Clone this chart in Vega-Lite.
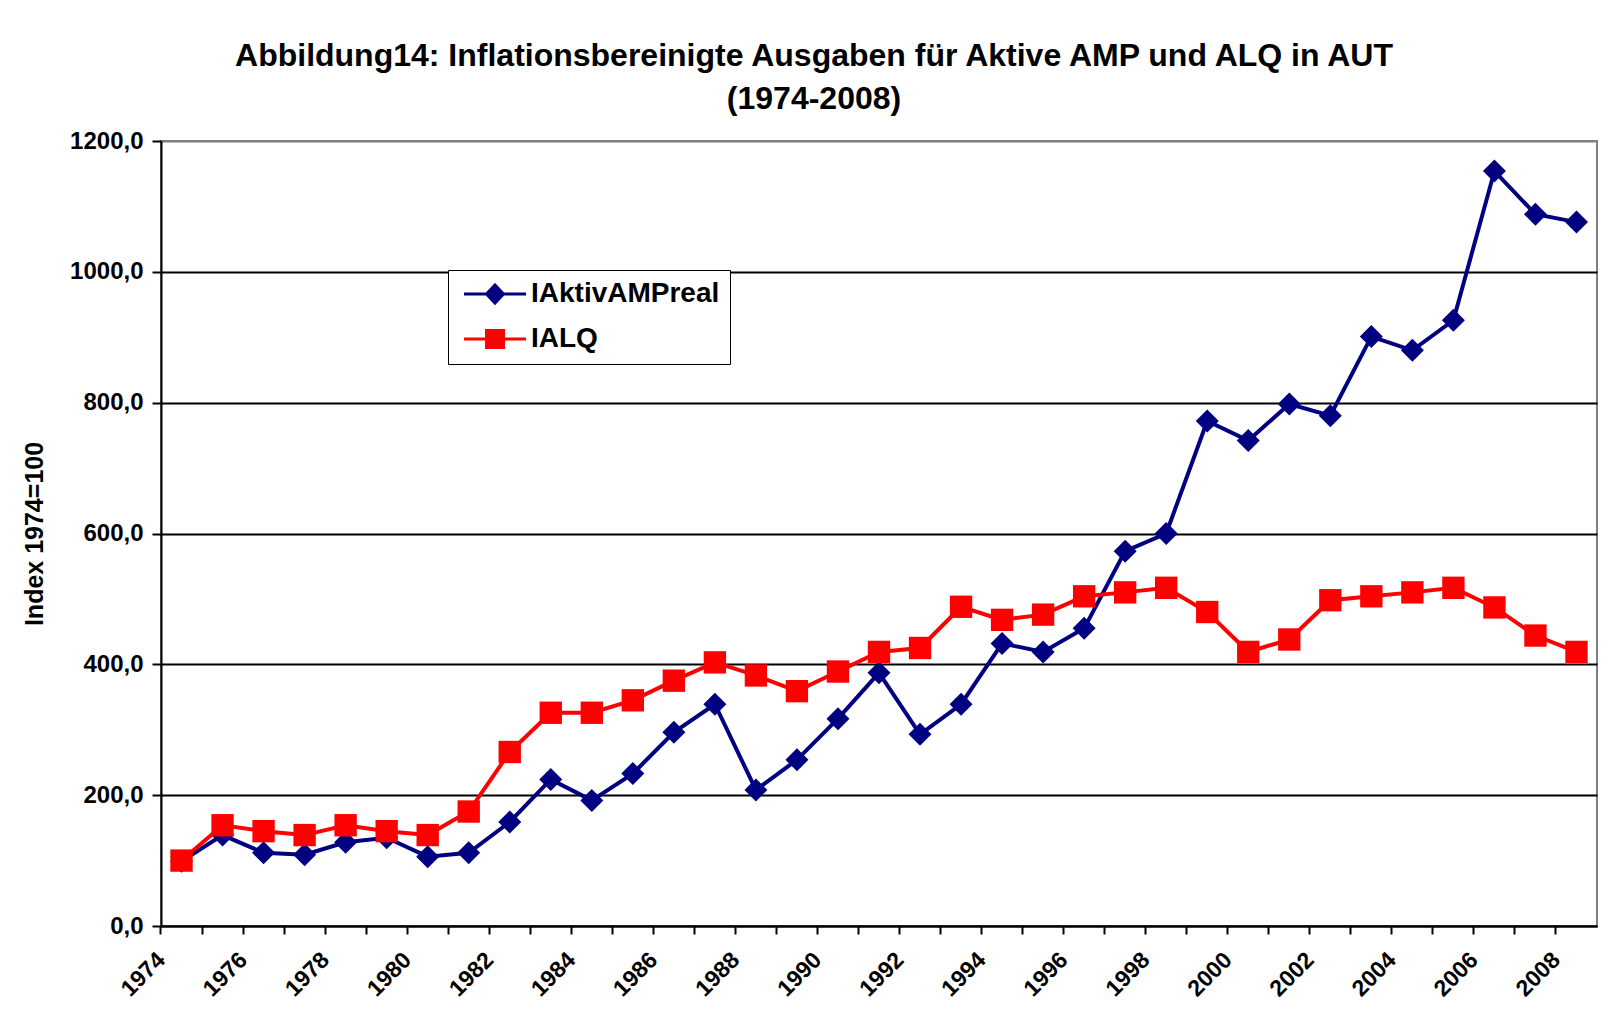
{
  "$schema": "https://vega.github.io/schema/vega-lite/v6.json",
  "width": 1436,
  "height": 785,
  "autosize": {"type": "none"},
  "padding": {"left": 161, "top": 141, "right": 17, "bottom": 98},
  "background": "white",
  "config": {
    "view": {"stroke": "#808080", "strokeWidth": 2},
    "font": "Liberation Sans"
  },
  "title": {
    "text": ["Abbildung14: Inflationsbereinigte Ausgaben für Aktive AMP und ALQ in AUT", "(1974-2008)"],
    "font": "Liberation Sans",
    "fontSize": 32,
    "fontWeight": "bold",
    "color": "black",
    "anchor": "middle",
    "dx": -65,
    "offset": 13,
    "lineHeight": 43
  },
  "data": {
    "values": [
      {"year": 1974, "series": "IAktivAMPreal", "value": 99},
      {"year": 1975, "series": "IAktivAMPreal", "value": 139},
      {"year": 1976, "series": "IAktivAMPreal", "value": 112},
      {"year": 1977, "series": "IAktivAMPreal", "value": 109},
      {"year": 1978, "series": "IAktivAMPreal", "value": 128},
      {"year": 1979, "series": "IAktivAMPreal", "value": 135},
      {"year": 1980, "series": "IAktivAMPreal", "value": 106},
      {"year": 1981, "series": "IAktivAMPreal", "value": 112},
      {"year": 1982, "series": "IAktivAMPreal", "value": 159},
      {"year": 1983, "series": "IAktivAMPreal", "value": 224},
      {"year": 1984, "series": "IAktivAMPreal", "value": 192},
      {"year": 1985, "series": "IAktivAMPreal", "value": 233},
      {"year": 1986, "series": "IAktivAMPreal", "value": 296},
      {"year": 1987, "series": "IAktivAMPreal", "value": 339},
      {"year": 1988, "series": "IAktivAMPreal", "value": 208},
      {"year": 1989, "series": "IAktivAMPreal", "value": 254},
      {"year": 1990, "series": "IAktivAMPreal", "value": 317},
      {"year": 1991, "series": "IAktivAMPreal", "value": 387},
      {"year": 1992, "series": "IAktivAMPreal", "value": 293},
      {"year": 1993, "series": "IAktivAMPreal", "value": 339},
      {"year": 1994, "series": "IAktivAMPreal", "value": 432},
      {"year": 1995, "series": "IAktivAMPreal", "value": 419},
      {"year": 1996, "series": "IAktivAMPreal", "value": 455},
      {"year": 1997, "series": "IAktivAMPreal", "value": 573},
      {"year": 1998, "series": "IAktivAMPreal", "value": 600},
      {"year": 1999, "series": "IAktivAMPreal", "value": 772},
      {"year": 2000, "series": "IAktivAMPreal", "value": 742},
      {"year": 2001, "series": "IAktivAMPreal", "value": 798},
      {"year": 2002, "series": "IAktivAMPreal", "value": 780},
      {"year": 2003, "series": "IAktivAMPreal", "value": 901},
      {"year": 2004, "series": "IAktivAMPreal", "value": 880},
      {"year": 2005, "series": "IAktivAMPreal", "value": 926},
      {"year": 2006, "series": "IAktivAMPreal", "value": 1154},
      {"year": 2007, "series": "IAktivAMPreal", "value": 1088},
      {"year": 2008, "series": "IAktivAMPreal", "value": 1076},
      {"year": 1974, "series": "IALQ", "value": 100},
      {"year": 1975, "series": "IALQ", "value": 154},
      {"year": 1976, "series": "IALQ", "value": 145},
      {"year": 1977, "series": "IALQ", "value": 139},
      {"year": 1978, "series": "IALQ", "value": 154},
      {"year": 1979, "series": "IALQ", "value": 145},
      {"year": 1980, "series": "IALQ", "value": 139},
      {"year": 1981, "series": "IALQ", "value": 175},
      {"year": 1982, "series": "IALQ", "value": 266},
      {"year": 1983, "series": "IALQ", "value": 326},
      {"year": 1984, "series": "IALQ", "value": 326},
      {"year": 1985, "series": "IALQ", "value": 345},
      {"year": 1986, "series": "IALQ", "value": 375},
      {"year": 1987, "series": "IALQ", "value": 403},
      {"year": 1988, "series": "IALQ", "value": 383},
      {"year": 1989, "series": "IALQ", "value": 359},
      {"year": 1990, "series": "IALQ", "value": 389},
      {"year": 1991, "series": "IALQ", "value": 419},
      {"year": 1992, "series": "IALQ", "value": 425},
      {"year": 1993, "series": "IALQ", "value": 488},
      {"year": 1994, "series": "IALQ", "value": 468},
      {"year": 1995, "series": "IALQ", "value": 476},
      {"year": 1996, "series": "IALQ", "value": 504},
      {"year": 1997, "series": "IALQ", "value": 510},
      {"year": 1998, "series": "IALQ", "value": 517},
      {"year": 1999, "series": "IALQ", "value": 480},
      {"year": 2000, "series": "IALQ", "value": 419},
      {"year": 2001, "series": "IALQ", "value": 438},
      {"year": 2002, "series": "IALQ", "value": 498},
      {"year": 2003, "series": "IALQ", "value": 504},
      {"year": 2004, "series": "IALQ", "value": 510},
      {"year": 2005, "series": "IALQ", "value": 517},
      {"year": 2006, "series": "IALQ", "value": 487},
      {"year": 2007, "series": "IALQ", "value": 444},
      {"year": 2008, "series": "IALQ", "value": 419}
    ]
  },
  "encoding": {
    "x": {
      "field": "year",
      "type": "ordinal",
      "scale": {"type": "band", "paddingInner": 0, "paddingOuter": 0},
      "axis": {
        "title": null,
        "bandPosition": 0,
        "labelAngle": -45,
        "labelAlign": "right",
        "labelBaseline": "middle",
        "labelOffset": -20,
        "labelExpr": "datum.value % 2 === 0 ? datum.label : ''",
        "labelFont": "Liberation Sans",
        "labelFontSize": 23,
        "labelFontWeight": "bold",
        "labelColor": "black",
        "labelPadding": 22,
        "labelOverlap": false,
        "tickSize": 8,
        "tickColor": "black",
        "tickWidth": 2,
        "domainColor": "black",
        "domainWidth": 2,
        "grid": false
      }
    },
    "y": {
      "field": "value",
      "type": "quantitative",
      "scale": {"domain": [0, 1200], "nice": false},
      "axis": {
        "title": "Index 1974=100",
        "titleFont": "Liberation Sans",
        "titleFontSize": 25,
        "titleFontWeight": "bold",
        "titleColor": "black",
        "titlePadding": 22,
        "values": [0, 200, 400, 600, 800, 1000, 1200],
        "labelExpr": "replace(format(datum.value, '.1f'), '.', ',')",
        "labelFont": "Liberation Sans",
        "labelFontSize": 24,
        "labelFontWeight": "bold",
        "labelColor": "black",
        "labelPadding": 9,
        "labelFlush": false,
        "tickSize": 9,
        "tickColor": "black",
        "tickWidth": 2,
        "domainColor": "black",
        "domainWidth": 2,
        "grid": true,
        "gridColor": {"condition": {"test": "datum.value === 1200", "value": "#808080"}, "value": "black"},
        "gridWidth": 2
      }
    },
    "color": {
      "field": "series",
      "type": "nominal",
      "scale": {"domain": ["IAktivAMPreal", "IALQ"], "range": ["#000080", "#FF0000"]},
      "legend": {
        "title": null,
        "orient": "none",
        "legendX": 287,
        "legendY": 129,
        "direction": "vertical",
        "labelFont": "Liberation Sans",
        "labelFontSize": 28,
        "labelFontWeight": "bold",
        "labelColor": "black",
        "labelBaseline": "middle",
        "labelLimit": 0,
        "strokeColor": "black",
        "fillColor": "white",
        "padding": 10,
        "symbolSize": 400,
        "symbolStrokeWidth": 3,
        "symbolOffset": 23,
        "labelOffset": 22,
        "rowPadding": 15,
        "encode": {
          "symbols": {
            "update": {
              "shape": [
                {"test": "datum.value === 'IALQ'", "value": "M-3.1,0H3.1M-0.85,-0.85H0.85V0.85H-0.85Z"},
                {"value": "M-3.1,0H3.1M0,-0.9L0.85,0L0,0.9L-0.85,0Z"}
              ],
              "fill": [
                {"test": "datum.value === 'IALQ'", "value": "#FF0000"},
                {"value": "#000080"}
              ],
              "stroke": [
                {"test": "datum.value === 'IALQ'", "value": "#FF0000"},
                {"value": "#000080"}
              ],
              "opacity": {"value": 1},
              "fillOpacity": {"value": 1}
            }
          }
        }
      }
    }
  },
  "layer": [
    {
      "transform": [{"filter": "datum.series === 'IAktivAMPreal'"}],
      "mark": {"type": "line", "strokeWidth": 4, "point": {"shape": "diamond", "size": 529, "filled": true, "opacity": 1}}
    },
    {
      "transform": [{"filter": "datum.series === 'IALQ'"}],
      "mark": {"type": "line", "strokeWidth": 4, "point": {"shape": "square", "size": 500, "filled": true, "opacity": 1}}
    }
  ]
}
